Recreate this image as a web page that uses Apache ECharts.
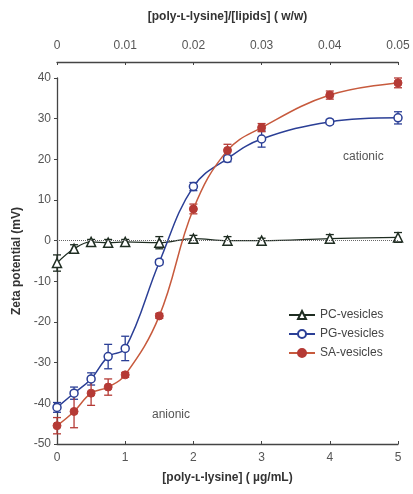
<!DOCTYPE html>
<html><head><meta charset="utf-8">
<script src="https://cdn.jsdelivr.net/npm/echarts@6/dist/echarts.min.js"></script>
<style>html,body{margin:0;padding:0;background:#fff}#c{width:413px;height:494px}</style>
</head><body><div id="c"></div>
<script>
const conc = [0, 0.25, 0.5, 0.75, 1, 1.5, 2, 2.5, 3, 4, 5];
const pcVals = [-5.5, -2, -0.3, -0.5, -0.3, -0.5, 0.5, 0, 0, 0.5, 0.8];
const pcErr  = [2, 1, 0.6, 0.8, 0.6, 1.5, 0.8, 1, 0.6, 1, 1.2];
const pgVals = [-41, -37.5, -34, -28.5, -26.5, -5.3, 13.3, 20.2, 25, 29.2, 30.2];
const pgErr  = [1.2, 1.5, 1.5, 3, 3, 0.6, 1, 0.8, 2, 0.6, 1.5];
const saVals = [-45.5, -42, -37.5, -36, -33, -18.5, 7.8, 22.2, 27.8, 35.8, 38.8];
const saErr  = [2, 4, 3, 2, 0.6, 0.6, 1.2, 1.5, 1, 1, 1.2];
const xTicks = [0, 1, 2, 3, 4, 5];
const topTicks = [0, 0.01, 0.02, 0.03, 0.04, 0.05];
const yTicks = [-50, -40, -30, -20, -10, 0, 10, 20, 30, 40];

const font = 'Liberation Sans';
const cPC = '#1f2d22', cPG = '#2b3f96', cSA = '#b53a35', cSAline = '#c75a3d';

function pairs(v){ return conc.map((x,i)=>[x, v[i]]); }
function errData(v,e){ return conc.map((x,i)=>[x, v[i]-e[i], v[i]+e[i]]); }
function errSeries(v,e,color){
  return {
    type:'custom', xAxisIndex:0, yAxisIndex:0, z:1, silent:true,
    data: errData(v,e),
    renderItem:function(params, api){
      const x = api.value(0);
      const lo = api.coord([x, api.value(1)]);
      const hi = api.coord([x, api.value(2)]);
      const w = 4;
      const st = {stroke:color, lineWidth:1.3};
      return {type:'group', children:[
        {type:'line', shape:{x1:lo[0],y1:lo[1],x2:hi[0],y2:hi[1]}, style:st},
        {type:'line', shape:{x1:lo[0]-w,y1:lo[1],x2:lo[0]+w,y2:lo[1]}, style:st},
        {type:'line', shape:{x1:hi[0]-w,y1:hi[1],x2:hi[0]+w,y2:hi[1]}, style:st}
      ]};
    }
  };
}

const chart = echarts.init(document.getElementById('c'), null, {renderer:'canvas'});
chart.setOption({
  animation:false,
  textStyle:{fontFamily:font},
  grid:{left:57, right:15, top:78, bottom:50},
  legend:{
    data:['PC-vesicles','PG-vesicles','SA-vesicles'],
    orient:'vertical', left:283, top:304, itemGap:7, itemWidth:26, itemHeight:10,
    textStyle:{fontFamily:font, fontSize:12, color:'#444'}
  },
  xAxis:[{
    type:'value', position:'bottom', min:0, max:5, interval:1,
    name:'[poly-ʟ-lysine] ( µg/mL)', nameLocation:'middle', nameGap:28,
    nameTextStyle:{fontFamily:font, fontSize:12, fontWeight:'bold', color:'#333'},
    axisLine:{show:true, onZero:false, lineStyle:{color:'#444', width:1.3}},
    axisTick:{show:true, inside:true, length:3, lineStyle:{color:'#444'}},
    axisLabel:{fontFamily:font, fontSize:12, color:'#555', margin:8},
    splitLine:{show:false}
  },{
    type:'value', position:'top', offset:16, min:0, max:0.05, interval:0.01,
    name:'[poly-ʟ-lysine]/[lipids] ( w/w)', nameLocation:'middle', nameGap:39,
    nameTextStyle:{fontFamily:font, fontSize:12, fontWeight:'bold', color:'#333'},
    axisLine:{show:true, onZero:false, lineStyle:{color:'#444', width:1.3}},
    axisTick:{show:true, inside:true, length:3, lineStyle:{color:'#444'}},
    axisLabel:{fontFamily:font, fontSize:12, color:'#555', margin:10,
      formatter:function(v){ const t = topTicks.find(k=>Math.abs(k-v)<1e-9); return t===undefined? '' : String(t); }},
    splitLine:{show:false}
  }],
  yAxis:[{
    type:'value', min:-50, max:40, interval:10,
    name:'Zeta potential (mV)', nameLocation:'middle', nameGap:29,
    nameTextStyle:{fontFamily:font, fontSize:12, fontWeight:'bold', color:'#333'},
    axisLine:{show:true, onZero:false, lineStyle:{color:'#444', width:1.3}},
    axisTick:{show:true, inside:false, length:3, lineStyle:{color:'#444'}},
    axisLabel:{fontFamily:font, fontSize:12, color:'#555', margin:6},
    splitLine:{show:false}
  }],
  series:[
    errSeries(pcVals, pcErr, cPC),
    errSeries(pgVals, pgErr, cPG),
    errSeries(saVals, saErr, cSA),
    {
      name:'PC-vesicles', type:'line', smooth:0.4, data:pairs(pcVals), z:3,
      symbol:'triangle', symbolSize:9, showAllSymbol:true,
      lineStyle:{color:cPC, width:1.3},
      itemStyle:{color:'#fff', borderColor:cPC, borderWidth:1.5},
      markLine:{silent:true, symbol:'none', label:{show:false},
        lineStyle:{color:'#666', type:'dotted', width:1}, data:[{yAxis:0}]}
    },
    {
      name:'PG-vesicles', type:'line', smooth:0.4, data:pairs(pgVals), z:3,
      symbol:'circle', symbolSize:8, showAllSymbol:true,
      lineStyle:{color:cPG, width:1.5},
      itemStyle:{color:'#fff', borderColor:cPG, borderWidth:1.5}
    },
    {
      name:'SA-vesicles', type:'line', smooth:0.4, data:pairs(saVals), z:3,
      symbol:'circle', symbolSize:8, showAllSymbol:true,
      lineStyle:{color:cSAline, width:1.5},
      itemStyle:{color:cSA, borderColor:cSA, borderWidth:1}
    }
  ],
  graphic:[
    {type:'text', left:343, top:151, style:{text:'cationic', font:'12px "Liberation Sans"', fill:'#555'}},
    {type:'text', left:152, top:409, style:{text:'anionic', font:'12px "Liberation Sans"', fill:'#555'}}
  ]
});
</script>
</body></html>
